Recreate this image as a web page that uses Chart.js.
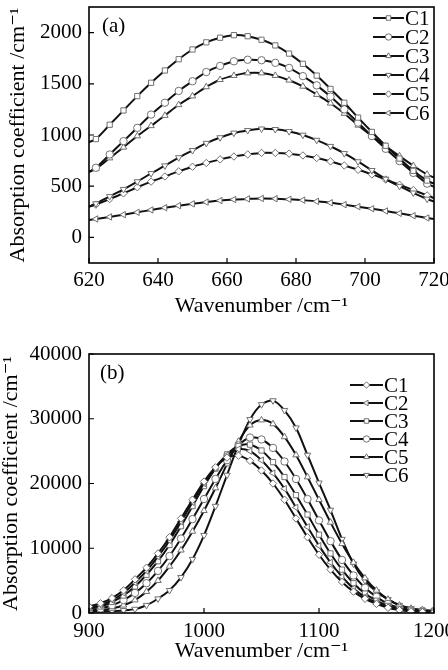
<!DOCTYPE html>
<html>
<head>
<meta charset="utf-8">
<script src="https://cdn.jsdelivr.net/npm/chart.js@4.4.1/dist/chart.umd.min.js"></script>
<style>
  html, body { margin: 0; padding: 0; background: #fff; }
  body { width: 448px; height: 670px; position: relative; overflow: hidden; }
  canvas { position: absolute; left: 0; }
  #chartA { top: 0; }
  #chartB { top: 330px; }
</style>
</head>
<body>
<canvas id="chartA" width="448" height="330"></canvas>
<canvas id="chartB" width="448" height="340"></canvas>
<script>
// panel (a): 620-720 cm-1 band
const A_WAVENUMBER = [620, 622, 626, 630, 634, 638, 642, 646, 650, 654, 658, 662, 666, 670, 674, 678, 682, 686, 690, 694, 698, 702, 706, 710, 714, 718, 720];
const A_C1 = [930, 960, 1100, 1240, 1380, 1510, 1630, 1740, 1835, 1905, 1950, 1975, 1965, 1930, 1875, 1795, 1695, 1580, 1450, 1315, 1170, 1030, 895, 770, 650, 555, 525];
const A_C2 = [640, 680, 810, 940, 1070, 1200, 1315, 1430, 1525, 1615, 1675, 1720, 1735, 1730, 1705, 1655, 1575, 1485, 1375, 1250, 1120, 990, 865, 745, 630, 525, 495];
const A_C3 = [640, 670, 775, 880, 990, 1090, 1190, 1295, 1380, 1470, 1540, 1580, 1605, 1605, 1580, 1535, 1475, 1395, 1310, 1210, 1095, 990, 890, 795, 700, 615, 585];
const A_C4 = [300, 330, 400, 470, 545, 625, 700, 780, 850, 920, 975, 1020, 1045, 1060, 1055, 1035, 1000, 950, 890, 820, 740, 655, 570, 500, 435, 375, 350];
const A_C5 = [300, 320, 375, 430, 490, 545, 595, 645, 690, 727, 762, 790, 810, 825, 825, 818, 800, 775, 742, 702, 660, 615, 565, 515, 462, 410, 385];
const A_C6 = [170, 180, 200, 222, 245, 268, 290, 310, 328, 345, 360, 370, 376, 380, 378, 372, 364, 352, 338, 320, 300, 280, 258, 235, 212, 190, 180];
const A_XTICKS = [620, 640, 660, 680, 700, 720];
const A_YTICKS = [0, 500, 1000, 1500, 2000];

// panel (b): 900-1200 cm-1 band
const B_WAVENUMBER = [900, 910, 920, 930, 940, 950, 960, 970, 980, 990, 1000, 1010, 1020, 1030, 1040, 1050, 1060, 1070, 1080, 1090, 1100, 1110, 1120, 1130, 1140, 1150, 1160, 1170, 1180, 1190, 1200];
const B_C1 = [1000, 1500, 2300, 3500, 5200, 7000, 9200, 11700, 14600, 17500, 20300, 22500, 24000, 24300, 23500, 22000, 20000, 17500, 14600, 11700, 9000, 6700, 4800, 3300, 2200, 1400, 800, 450, 250, 150, 100];
const B_C2 = [800, 1200, 2000, 3100, 4700, 6500, 8700, 11200, 14100, 17100, 20000, 22500, 24400, 25300, 25000, 23600, 21600, 19200, 16300, 13300, 10400, 7800, 5600, 3800, 2500, 1600, 950, 550, 320, 200, 150];
const B_C3 = [700, 1000, 1700, 2700, 4100, 5900, 8000, 10500, 13400, 16500, 19600, 22300, 24500, 25800, 26000, 25100, 23300, 21000, 18200, 15200, 12100, 9200, 6700, 4600, 3000, 1900, 1100, 650, 400, 300, 250];
const B_C4 = [500, 700, 1200, 2000, 3100, 4600, 6500, 8800, 11500, 14500, 17600, 20700, 23600, 25900, 27100, 26800, 25500, 23400, 20700, 17600, 14300, 11100, 8200, 5800, 3900, 2500, 1400, 800, 500, 350, 300];
const B_C5 = [300, 400, 700, 1200, 2000, 3300, 5000, 7200, 9700, 12600, 15800, 19300, 23000, 26500, 29000, 29800, 29200, 27200, 24400, 21000, 17500, 14000, 10700, 7800, 5400, 3500, 2100, 1200, 700, 450, 350];
const B_C6 = [200, 250, 300, 400, 600, 1200, 2200, 3500, 5500, 8300, 12000, 16500, 21300, 26000, 29900, 32200, 32800, 31300, 28600, 24400, 20100, 15900, 11400, 7600, 5000, 3300, 2100, 1200, 700, 400, 250];
const B_XTICKS = [900, 1000, 1100, 1200];
const B_YTICKS = [0, 10000, 20000, 30000, 40000];

const SERIF = '"Liberation Serif", "DejaVu Serif", serif';
const MARK = 3.7;

Chart.defaults.font.family = SERIF;
Chart.defaults.color = '#000';

function toXY(xs, ys) {
  return xs.map((x, i) => ({ x, y: ys[i] }));
}

function series(label, xs, ys, style, rotation, endsBare) {
  return {
    label,
    data: toXY(xs, ys),
    borderColor: '#111',
    borderWidth: 2,
    tension: 0.3,
    pointStyle: style,
    pointRotation: rotation,
    pointBackgroundColor: '#fff',
    pointBorderColor: '#707070',
    pointBorderWidth: 1,
    pointRadius: endsBare
      ? (ctx) => (ctx.dataIndex === 0 || ctx.dataIndex === xs.length - 1 ? 0 : MARK)
      : MARK,
  };
}

// box, inward ticks, panel tag and the line-marker-line legend
const framePlugin = {
  id: 'frame',
  afterDatasetsDraw(chart, args, opts) {
    const { ctx, chartArea: a, scales } = chart;
    ctx.save();
    ctx.strokeStyle = '#000';
    ctx.lineWidth = 1.2;
    ctx.beginPath();
    scales.x.ticks.forEach((t) => {
      const px = scales.x.getPixelForValue(t.value);
      ctx.moveTo(px, a.bottom);
      ctx.lineTo(px, a.bottom - 5);
    });
    scales.y.ticks.forEach((t) => {
      const py = scales.y.getPixelForValue(t.value);
      ctx.moveTo(a.left, py);
      ctx.lineTo(a.left + 5, py);
    });
    ctx.stroke();
    ctx.lineWidth = 1.6;
    ctx.strokeRect(a.left, a.top, a.right - a.left, a.bottom - a.top);

    ctx.fillStyle = '#000';
    ctx.textBaseline = 'middle';
    ctx.textAlign = 'left';
    ctx.font = '21px ' + SERIF;
    ctx.fillText(opts.tag, opts.tagX, opts.tagY);

    chart.data.datasets.forEach((ds, i) => {
      const yy = opts.legY + i * opts.legGap;
      ctx.strokeStyle = '#111';
      ctx.lineWidth = 2;
      ctx.beginPath();
      ctx.moveTo(opts.legX, yy);
      ctx.lineTo(opts.legX + opts.legLen, yy);
      ctx.stroke();
      ctx.fillStyle = '#fff';
      ctx.strokeStyle = '#707070';
      ctx.lineWidth = 1;
      Chart.helpers.drawPoint(ctx, { pointStyle: ds.pointStyle, rotation: ds.pointRotation || 0, radius: 3.2, borderWidth: 1 }, opts.legX + opts.legLen / 2, yy);
      ctx.fillStyle = '#000';
      ctx.font = '21px ' + SERIF;
      ctx.fillText(ds.label, opts.legX + opts.legLen + 1, yy + 1);
    });
    ctx.restore();
  },
};

function axisOptions(cfg) {
  const plain = (v) => String(v);
  return {
    x: {
      type: 'linear',
      min: cfg.xmin,
      max: cfg.xmax,
      grid: { display: false, drawTicks: false },
      border: { display: false },
      ticks: { font: { size: 21 }, padding: cfg.xPad, color: '#000', maxRotation: 0, callback: plain },
      afterBuildTicks: (s) => { s.ticks = cfg.xticks.map((v) => ({ value: v })); },
      afterFit: (s) => { s.height = cfg.xHeight; s.paddingLeft = 0; s.paddingRight = 0; },
      title: { display: true, text: 'Wavenumber /cm\u207B\u00B9', font: { size: 22, lineHeight: 1 }, padding: { top: 0, bottom: cfg.xTitlePad }, color: '#000' },
    },
    y: {
      type: 'linear',
      min: cfg.ymin,
      max: cfg.ymax,
      grid: { display: false, drawTicks: false },
      border: { display: false },
      ticks: { font: { size: 21 }, padding: 7, color: '#000', callback: plain },
      afterBuildTicks: (s) => { s.ticks = cfg.yticks.map((v) => ({ value: v })); },
      afterFit: (s) => { s.width = 89; s.paddingTop = 0; s.paddingBottom = 0; },
      title: { display: true, text: 'Absorption coefficient /cm\u207B\u00B9', font: { size: 22, lineHeight: 1 }, padding: { top: cfg.yTitlePad, bottom: 0 }, color: '#000' },
    },
  };
}

new Chart(document.getElementById('chartA'), {
  type: 'line',
  data: {
    datasets: [
      series('C1', A_WAVENUMBER, A_C1, 'rect', 0, true),
      series('C2', A_WAVENUMBER, A_C2, 'circle', 0, true),
      series('C3', A_WAVENUMBER, A_C3, 'triangle', 0, true),
      series('C4', A_WAVENUMBER, A_C4, 'triangle', 180, true),
      series('C5', A_WAVENUMBER, A_C5, 'rectRot', 0, true),
      series('C6', A_WAVENUMBER, A_C6, 'triangle', 270, true),
    ],
  },
  options: {
    responsive: false,
    animation: false,
    devicePixelRatio: 1,
    layout: { padding: { top: 7, right: 14, left: 0, bottom: 0 } },
    plugins: {
      legend: { display: false },
      tooltip: { enabled: false },
      frame: { tag: '(a)', tagX: 102, tagY: 26, legX: 373, legY: 18, legGap: 19, legLen: 31 },
    },
    scales: axisOptions({
      xmin: 620, xmax: 720, ymin: -250, ymax: 2250,
      xticks: A_XTICKS, yticks: A_YTICKS,
      xHeight: 67, xPad: 5, xTitlePad: 13, yTitlePad: 7,
    }),
  },
  plugins: [framePlugin],
});

new Chart(document.getElementById('chartB'), {
  type: 'line',
  data: {
    datasets: [
      series('C1', B_WAVENUMBER, B_C1, 'rectRot', 0, false),
      series('C2', B_WAVENUMBER, B_C2, 'triangle', 270, false),
      series('C3', B_WAVENUMBER, B_C3, 'rect', 0, false),
      series('C4', B_WAVENUMBER, B_C4, 'circle', 0, false),
      series('C5', B_WAVENUMBER, B_C5, 'triangle', 0, false),
      series('C6', B_WAVENUMBER, B_C6, 'triangle', 180, false),
    ],
  },
  options: {
    responsive: false,
    animation: false,
    devicePixelRatio: 1,
    layout: { padding: { top: 24, right: 14, left: 0, bottom: 0 } },
    plugins: {
      legend: { display: false },
      tooltip: { enabled: false },
      frame: { tag: '(b)', tagX: 100, tagY: 43, legX: 350, legY: 55, legGap: 18, legLen: 33 },
    },
    scales: axisOptions({
      xmin: 900, xmax: 1200, ymin: 0, ymax: 40000,
      xticks: B_XTICKS, yticks: B_YTICKS,
      xHeight: 57, xPad: 6, xTitlePad: 8, yTitlePad: 0,
    }),
  },
  plugins: [framePlugin],
});
</script>
</body>
</html>
